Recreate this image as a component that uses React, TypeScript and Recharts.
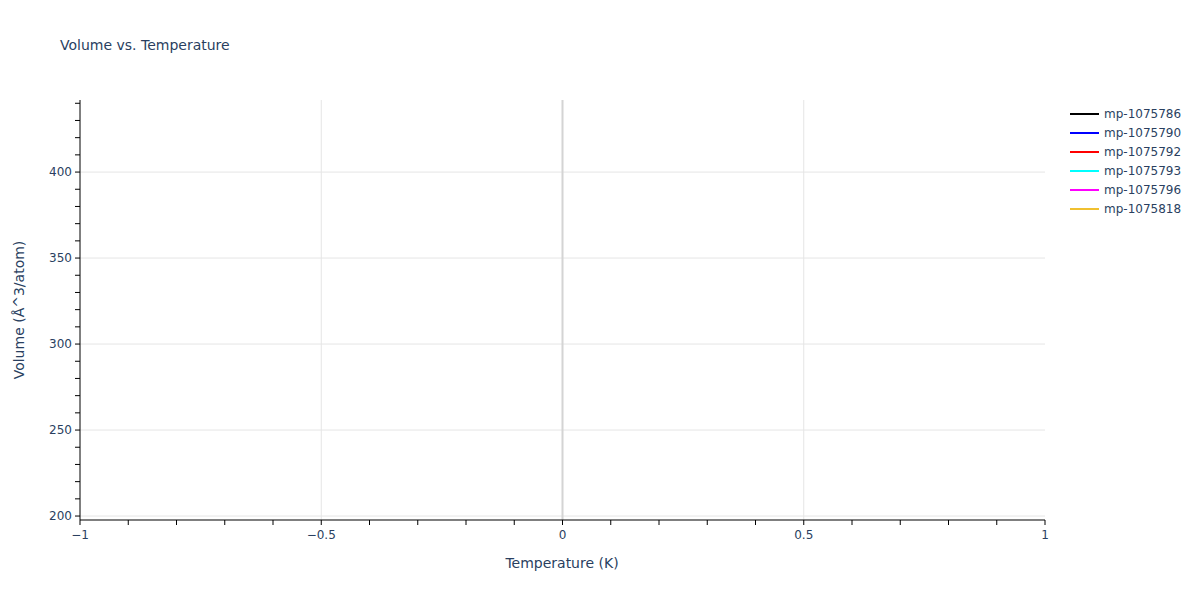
import React from "react";
import { LineChart, Line, XAxis, YAxis, ReferenceLine } from "recharts";

const seriesNames = ["mp-1075786", "mp-1075790", "mp-1075792", "mp-1075793", "mp-1075796", "mp-1075818"];
const seriesColors = ["#000000", "#0000ff", "#ff0000", "#00ffff", "#ff00ff", "#f0c030"];
// No visible points in the reference: one temperature with empty (null) volumes
const temperatures: number[] = [0];
const volumes: (number | null)[][] = [[null], [null], [null], [null], [null], [null]];

const xTicks = [-1, -0.9, -0.8, -0.7, -0.6, -0.5, -0.4, -0.3, -0.2, -0.1, 0, 0.1, 0.2, 0.3, 0.4, 0.5, 0.6, 0.7, 0.8, 0.9, 1];
const xMajor = [-1, -0.5, 0, 0.5, 1];
const yTicks = [200, 210, 220, 230, 240, 250, 260, 270, 280, 290, 300, 310, 320, 330, 340, 350, 360, 370, 380, 390, 400, 410, 420, 430, 440];
const yMajor = [200, 250, 300, 350, 400];
const xDomain: [number, number] = [-1, 1];
const yDomain: [number, number] = [197.7, 441.9];

const FONT = '"DejaVu Sans", Verdana, sans-serif';
const TEXT = "#2a3f5f";
const GRID = "#e5e5e5";

const fmtNum = (v: number) => (v < 0 ? "\u2212" + String(Math.abs(v)) : String(v));

export default function App() {
  const data = temperatures.map((t, i) => {
    const row: Record<string, number | null> = { t };
    seriesNames.forEach((n, k) => {
      row[n] = volumes[k][i];
    });
    return row;
  });

  return (
    <div style={{ position: "absolute", left: 0, top: 0, width: 1200, height: 600, background: "#fff", fontFamily: FONT }}>
      <LineChart width={1200} height={600} data={data} margin={{ top: 100, right: 155, bottom: 50, left: 30 }}>
        <XAxis
          type="number"
          dataKey="t"
          domain={xDomain}
          ticks={xTicks}
          allowDataOverflow
          interval={0}
          height={30}
          tickSize={5}
          tickMargin={5}
          axisLine={{ stroke: "#000", strokeWidth: 1 }}
          tickLine={{ stroke: "#000" }}
          tick={{ fill: TEXT, fontSize: 12, fontFamily: FONT }}
          tickFormatter={(v: number) => (xMajor.some((m) => Math.abs(m - v) < 1e-9) ? fmtNum(v) : "")}
        />
        <YAxis
          type="number"
          domain={yDomain}
          ticks={yTicks}
          allowDataOverflow
          interval={0}
          width={50}
          tickSize={5}
          tickMargin={3}
          axisLine={{ stroke: "#000", strokeWidth: 1 }}
          tickLine={{ stroke: "#000" }}
          tick={{ fill: TEXT, fontSize: 12, fontFamily: FONT }}
          tickFormatter={(v: number) => (yMajor.includes(v) ? String(v) : "")}
        />
        {yMajor.map((y) => (
          <ReferenceLine key={"y" + y} y={y} stroke={GRID} strokeWidth={1} ifOverflow="hidden" />
        ))}
        {xMajor
          .filter((x) => x !== 0 && Math.abs(x) !== 1)
          .map((x) => (
            <ReferenceLine key={"x" + x} x={x} stroke={GRID} strokeWidth={1} ifOverflow="hidden" />
          ))}
        <ReferenceLine x={0} stroke="#d4d4d4" strokeWidth={2} />
        {seriesNames.map((n, k) => (
          <Line key={n} dataKey={n} stroke={seriesColors[k]} strokeWidth={2} dot={false} isAnimationActive={false} />
        ))}
      </LineChart>
      <svg style={{ position: "absolute", left: 0, top: 0, pointerEvents: "none" }} width={1200} height={600}>
        <text x={60} y={50} fill={TEXT} fontSize={14} fontFamily={FONT}>
          Volume vs. Temperature
        </text>
        <text x={562} y={568} textAnchor="middle" fill={TEXT} fontSize={14} fontFamily={FONT}>
          Temperature (K)
        </text>
        <text x={24} y={310} transform="rotate(-90 24 310)" textAnchor="middle" fill={TEXT} fontSize={14} fontFamily={FONT}>
          Volume (Å^3/atom)
        </text>
        {seriesNames.map((n, k) => (
          <g key={n}>
            <line x1={1070} x2={1099} y1={114 + k * 19} y2={114 + k * 19} stroke={seriesColors[k]} strokeWidth={2} />
            <text x={1104} y={114 + k * 19} dy="0.35em" fill={TEXT} fontSize={12} fontFamily={FONT}>
              {n}
            </text>
          </g>
        ))}
      </svg>
    </div>
  );
}
